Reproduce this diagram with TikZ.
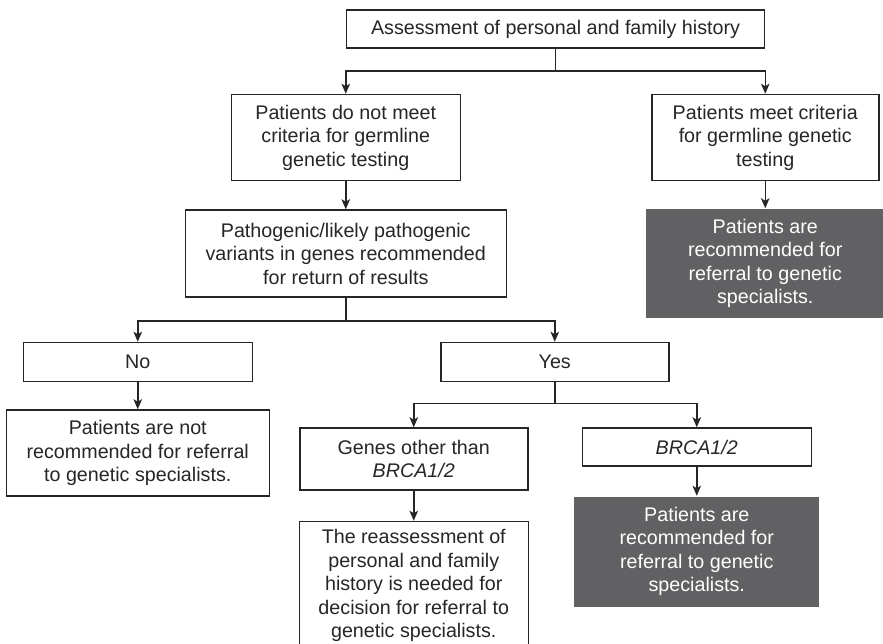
\documentclass[tikz,border=0pt]{standalone}
\usepackage{fontspec}
\setmainfont{Liberation Sans}
\usetikzlibrary{arrows.meta,positioning}
\definecolor{ink}{HTML}{262626}
\definecolor{shade}{HTML}{616163}

\begin{document}
\begin{tikzpicture}[x=1pt,y=1pt,>={Stealth[length=10pt,width=8.5pt,inset=2.5pt]},
 box/.style={draw=ink,line width=1.5pt,fill=white,text=ink,align=center,
 inner sep=0pt,font=\fontsize{19.7}{23.5}\selectfont},
 dark/.style={box,draw=none,fill=shade,text=white},
 link/.style={->,line width=1.5pt,ink}]
\useasboundingbox (0,0) rectangle (883,-643);
\node[box,minimum width=418pt,minimum height=38pt] (top) at (555.5,-29) {Assessment of personal and family history};
\node[box,minimum width=229pt,minimum height=86pt,below=45pt of top.south west] (nomeet) {Patients do not meet\\criteria for germline\\genetic testing};
\node[box,minimum width=227pt,minimum height=86pt,below=45pt of top.south east] (meet) {Patients meet criteria\\for germline genetic\\testing};
\node[box,minimum width=321pt,minimum height=87pt,below=28pt of nomeet] (patho) {Pathogenic/likely pathogenic\\variants in genes recommended\\for return of results};
\node[dark,minimum width=238pt,minimum height=109pt,below=27pt of meet] (rec1) {Patients are\\recommended for\\referral to genetic\\specialists.};
\node[box,minimum width=229pt,minimum height=39pt,below=44pt of patho,xshift=-208pt] (no) {No};
\node[box,minimum width=228pt,minimum height=39pt,below=44pt of patho,xshift=209pt] (yes) {Yes};
\node[box,minimum width=263pt,minimum height=86pt,below=27pt of no] (notrec) {Patients are not\\recommended for referral\\to genetic specialists.};
\node[box,minimum width=228pt,minimum height=62pt,below=45pt of yes,xshift=-141pt] (genes) {Genes other than\\\textit{BRCA1/2}};
\node[box,minimum width=229pt,minimum height=38pt,below=45pt of yes,xshift=142pt] (brca) {\textit{BRCA1/2}};
\node[box,minimum width=229pt,minimum height=128pt,below=30pt of genes] (reassess) {The reassessment of\\personal and family\\history is needed for\\decision for referral to\\genetic specialists.};
\node[dark,minimum width=245pt,minimum height=110pt,below=29pt of brca] (rec2) {Patients are\\recommended for\\referral to genetic\\specialists.};
% branches
\foreach \c in {nomeet,meet} \draw[link] (top.south) -- ++(0,-22) -| (\c);
\foreach \c in {no,yes} \draw[link] (patho.south) -- ++(0,-23) -| (\c);
\foreach \c in {genes,brca} \draw[link] (yes.south) -- ++(0,-21) -| (\c);
\foreach \x/\y in {nomeet/patho,meet/rec1,no/notrec,genes/reassess,brca/rec2} \draw[link] (\x)--(\y);
\end{tikzpicture}
\end{document}
